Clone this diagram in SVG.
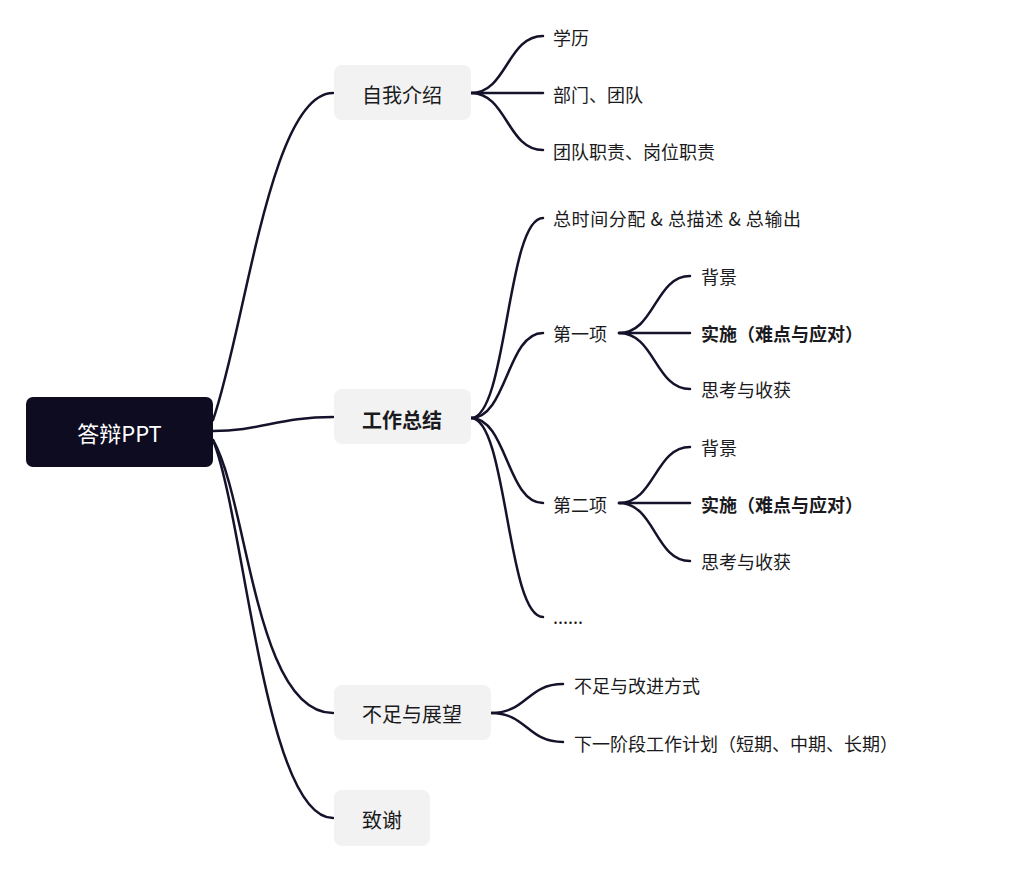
<svg xmlns="http://www.w3.org/2000/svg" width="1024" height="877" viewBox="0 0 1024 877">
<style>
.bg{fill:#ffffff}
.link{fill:none;stroke:#15132b;stroke-width:2.5;stroke-linecap:round}
.root{fill:#0e0c20}
.l1{fill:#f2f2f2}
text{font-family:"Noto Sans CJK SC","Noto Sans",sans-serif;dominant-baseline:central;fill:#1a1a20}
.rt{font-size:22px;fill:#ffffff;text-anchor:middle}
.t1{font-size:20px}
.t2{font-size:18px}
.b{font-weight:bold}
</style>
<rect class="bg" x="0" y="0" width="1024" height="877"/>
<g id="connectors">
<path class="link" d="M213,420 C245,330 270,93 333,93"/>
<path class="link" d="M213,431 C260,431 280,417 333,417"/>
<path class="link" d="M213,440 C248,500 255,713 333,713"/>
<path class="link" d="M213,440 C245,520 265,818 333,818"/>
<path class="link" d="M471,93 C507,93 507,36 543,36"/>
<path class="link" d="M471,93 L543,93"/>
<path class="link" d="M471,93 C507,93 507,150 543,150"/>
<path class="link" d="M471,418 C507,418 507,218 543,218"/>
<path class="link" d="M471,418 C507,418 507,333 543,333"/>
<path class="link" d="M471,418 C507,418 507,503 543,503"/>
<path class="link" d="M471,418 C507,418 507,617 543,617"/>
<path class="link" d="M619,333 C655,333 655,276 690,276"/>
<path class="link" d="M619,333 L690,333"/>
<path class="link" d="M619,333 C655,333 655,389 690,389"/>
<path class="link" d="M619,503 C655,503 655,447 690,447"/>
<path class="link" d="M619,503 L690,503"/>
<path class="link" d="M619,503 C655,503 655,561 690,561"/>
<path class="link" d="M491,713 C527,713 527,684 563,684"/>
<path class="link" d="M491,713 C527,713 527,742 563,742"/>
</g>
<g id="root"><rect class="root" x="26" y="397" width="187" height="70" rx="7"/><text class="rt" x="119.5" y="432">答辩PPT</text></g>
<g id="n-intro"><rect class="l1" x="334" y="65" width="137" height="55" rx="8"/><text class="t1" x="362" y="94">自我介绍</text></g>
<g id="n-work"><rect class="l1" x="334" y="389" width="137" height="55" rx="8"/><text class="t1 b" x="362" y="419">工作总结</text></g>
<g id="n-lack"><rect class="l1" x="334" y="685" width="157" height="55" rx="8"/><text class="t1" x="362" y="713">不足与展望</text></g>
<g id="n-thanks"><rect class="l1" x="334" y="790" width="96" height="56" rx="8"/><text class="t1" x="362" y="819">致谢</text></g>
<g id="leaf-edu"><text class="t2" x="553" y="36.5">学历</text></g>
<g id="leaf-dept"><text class="t2" x="553" y="93.5">部门、团队</text></g>
<g id="leaf-duty"><text class="t2" x="553" y="150.5">团队职责、岗位职责</text></g>
<g id="leaf-total"><text class="t2" x="553" y="217.5" textLength="248" lengthAdjust="spacing">总时间分配 &amp; 总描述 &amp; 总输出</text></g>
<g id="n-item1"><text class="t2" x="553" y="332.5">第一项</text></g>
<g id="leaf-bg1"><text class="t2" x="701" y="275.5">背景</text></g>
<g id="leaf-impl1"><text class="t2 b" x="701" y="332.5">实施（难点与应对）</text></g>
<g id="leaf-think1"><text class="t2" x="701" y="388.5">思考与收获</text></g>
<g id="n-item2"><text class="t2" x="553" y="503.5">第二项</text></g>
<g id="leaf-bg2"><text class="t2" x="701" y="446.5">背景</text></g>
<g id="leaf-impl2"><text class="t2 b" x="701" y="503.5">实施（难点与应对）</text></g>
<g id="leaf-think2"><text class="t2" x="701" y="560.5">思考与收获</text></g>
<g id="leaf-more"><text class="t2" x="553" y="615.5">......</text></g>
<g id="leaf-improve"><text class="t2" x="574" y="684.5">不足与改进方式</text></g>
<g id="leaf-plan"><text class="t2" x="574" y="742.5">下一阶段工作计划（短期、中期、长期）</text></g>
</svg>
